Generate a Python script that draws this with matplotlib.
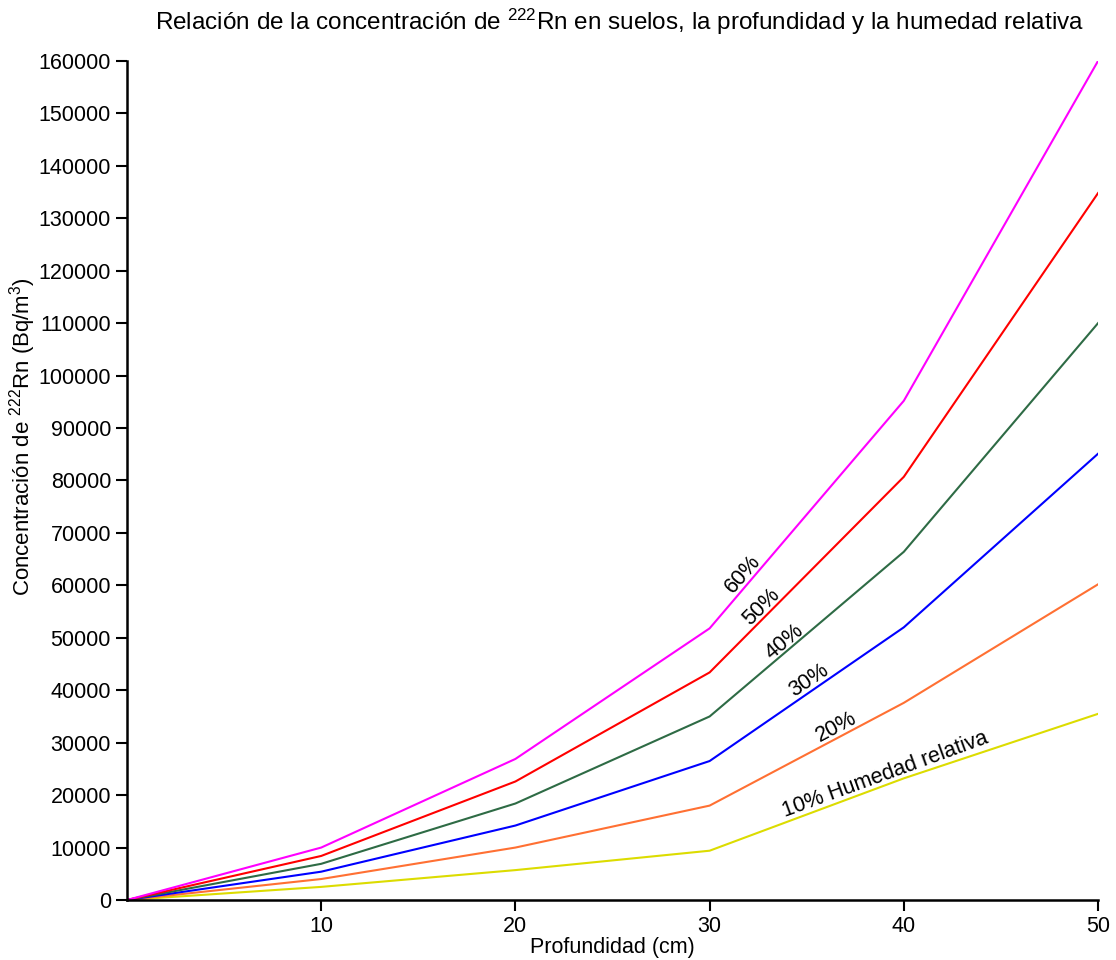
import matplotlib
matplotlib.use("Agg")
import matplotlib.pyplot as plt

plt.rcParams['font.family'] = ['Liberation Sans', 'DejaVu Sans']
plt.rcParams['mathtext.fontset'] = 'custom'
plt.rcParams['mathtext.rm'] = 'Liberation Sans'
plt.rcParams['mathtext.it'] = 'Liberation Sans:italic'
plt.rcParams['mathtext.bf'] = 'Liberation Sans:bold'
plt.rcParams['mathtext.default'] = 'regular'

depth = [0, 10, 20, 30, 40, 50]
hr10 = [0, 2500, 5700, 9400, 23200, 35500]
hr20 = [0, 4000, 10000, 18000, 37600, 60200]
hr30 = [0, 5400, 14200, 26500, 52000, 85100]
hr40 = [0, 6900, 18400, 35000, 66400, 110000]
hr50 = [0, 8400, 22600, 43400, 80700, 134800]
hr60 = [0, 10000, 26900, 51800, 95200, 160000]

series = [hr10, hr20, hr30, hr40, hr50, hr60]
colors = ['#DCDC00', '#FF7033', '#0000FF', '#2E6B45', '#FF0000', '#FF00FF']
labels = ['10% Humedad relativa', '20%', '30%', '40%', '50%', '60%']
label_pos = [(39.03, 23840), (36.54, 32990), (35.12, 41950), (33.83, 49200), (32.65, 55870), (31.69, 62170)]
label_rot = [20, 28, 34, 40, 45, 49]

x_ticks = [10, 20, 30, 40, 50]
y_ticks = list(range(0, 160001, 10000))

fig = plt.figure(figsize=(11.16, 9.6), dpi=100)
ax = fig.add_axes([0.1138, 0.0625, 0.9839 - 0.1138, 0.9365 - 0.0625])

for s, c in zip(series, colors):
    ax.plot(depth, s, color=c, lw=1.5)

for lab, (lx, ly), r in zip(labels, label_pos, label_rot):
    ax.text(lx, ly, lab, rotation=r, rotation_mode='anchor', ha='center', va='center',
            fontsize=15.5, color='black')

ax.set_xlim(0, 50)
ax.set_ylim(0, 160000)
ax.set_xticks(x_ticks)
ax.set_yticks(y_ticks)
ax.set_yticklabels([str(v) for v in y_ticks])
ax.tick_params(axis='both', labelsize=15.5, length=8, width=1.5, direction='out', color='black')
ax.spines['top'].set_visible(False)
ax.spines['right'].set_visible(False)
ax.spines['left'].set_linewidth(1.8)
ax.spines['bottom'].set_linewidth(1.8)

ax.set_xlabel('Profundidad (cm)', fontsize=15.5, labelpad=0)
fig.text(0.02, 0.545, 'Concentración de $^{222}$Rn (Bq/m$^{3}$)', rotation=90,
         ha='center', va='center', fontsize=16)
fig.text(0.5547, 0.977, 'Relación de la concentración de $^{222}$Rn en suelos, la profundidad y la humedad relativa',
         ha='center', va='center', fontsize=17.5)

fig.savefig('out.png', dpi=100)
